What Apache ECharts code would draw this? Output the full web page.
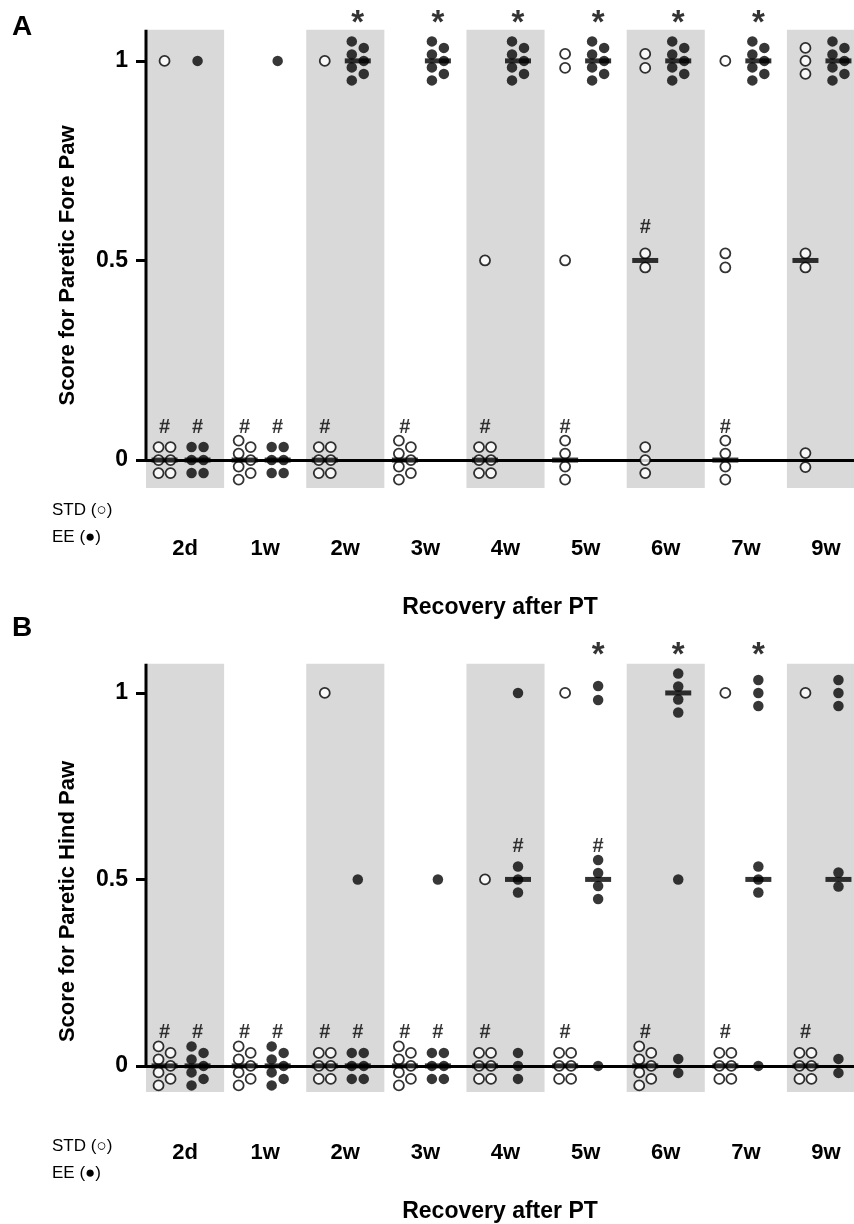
<!DOCTYPE html>
<html><head><meta charset="utf-8">
<script src="https://cdn.jsdelivr.net/npm/echarts@6/dist/echarts.min.js"></script>
<style>html,body{margin:0;padding:0;background:#fff}#c{width:854px;height:1224px}</style>
</head><body><div id="c"></div>
<script>
// ---------------- data ----------------
const timepoints = ['2d', '1w', '2w', '3w', '4w', '5w', '6w', '7w', '9w'];
const scoreLevels = [0, 0.5, 1];
const yTicks = [0, 0.5, 1];
// number of animals at score [0, 0.5, 1] for each time point
const foreSTD = [[6,0,1],[7,0,0],[6,0,1],[7,0,0],[6,1,0],[4,1,2],[3,2,2],[4,2,1],[2,2,3]];
const foreEE  = [[6,0,1],[6,0,1],[0,0,7],[0,0,7],[0,0,7],[0,0,7],[0,0,7],[0,0,7],[0,0,7]];
const hindSTD = [[7,0,0],[7,0,0],[6,0,1],[7,0,0],[6,1,0],[6,0,1],[7,0,0],[6,0,1],[6,0,1]];
const hindEE  = [[7,0,0],[7,0,0],[6,1,0],[6,1,0],[3,3,1],[1,4,2],[2,1,4],[1,3,3],[2,2,3]];
// '#' marks: [time index, group, score level]
const foreHash = [[0,'STD',0],[1,'STD',0],[2,'STD',0],[3,'STD',0],[4,'STD',0],[5,'STD',0],[7,'STD',0],
                  [0,'EE',0],[1,'EE',0],[6,'STD',0.5]];
const hindHash = [[0,'STD',0],[1,'STD',0],[2,'STD',0],[3,'STD',0],[4,'STD',0],[5,'STD',0],[6,'STD',0],[7,'STD',0],[8,'STD',0],
                  [0,'EE',0],[1,'EE',0],[2,'EE',0],[3,'EE',0],[4,'EE',0.5],[5,'EE',0.5]];
// '*' marks (EE vs STD) at time indices
const foreStar = [2, 3, 4, 5, 6, 7];
const hindStar = [5, 6, 7];

// ---------------- layout / style ----------------
const X_MIN = -0.4875, X_MAX = 8.35;
const Y_MIN = -0.07, Y_MAX = 1.15, BAND_TOP = 1.078;
const GROUP_SHIFT = { STD: -0.256, EE: 0.156 };
const GRID_LEFT = 146, GRID_H = 487;
const FONT = "'Liberation Sans', Arial, sans-serif";

const panels = [
  { counts: { STD: foreSTD, EE: foreEE }, hash: foreHash, star: foreStar, title: 'Score for Paretic Fore Paw', top: 1, letter: 'A', letterY: 27 },
  { counts: { STD: hindSTD, EE: hindEE }, hash: hindHash, star: hindStar, title: 'Score for Paretic Hind Paw', top: 637, letter: 'B', letterY: 628 }
];

function swarm(n) {
  switch (n) {
    case 1: return [[0, 0]];
    case 2: return [[0, -7], [0, 7]];
    case 3: return [[0, -13], [0, 0], [0, 13]];
    case 4: return [[0, -19.5], [0, -6.5], [0, 6.5], [0, 19.5]];
    case 5: return [[0, -20], [0, -10], [0, 0], [0, 10], [0, 20]];
    case 6: return [[-6, -13], [6, -13], [-6, 0], [6, 0], [-6, 13], [6, 13]];
    case 7: return [[-6, -19.5], [6, -13], [-6, -6.5], [6, 0], [-6, 6.5], [6, 13], [-6, 19.5]];
    default: return [];
  }
}
function median(c) {
  const vals = [];
  c.forEach((n, k) => { for (let j = 0; j < n; j++) vals.push(scoreLevels[k]); });
  vals.sort((a, b) => a - b);
  const m = Math.floor(vals.length / 2);
  return vals.length % 2 ? vals[m] : (vals[m - 1] + vals[m]) / 2;
}

const option = { animation: false, grid: [], xAxis: [], yAxis: [], series: [], graphic: [] };

panels.forEach((p, gi) => {
  const zeroY = p.top + (Y_MAX / (Y_MAX - Y_MIN)) * GRID_H;
  const unit = GRID_H / (Y_MAX - Y_MIN);
  option.grid.push({ left: GRID_LEFT, right: 0, top: p.top, height: GRID_H });
  option.xAxis.push({
    gridIndex: gi, type: 'value', min: X_MIN, max: X_MAX,
    axisLine: { show: true, onZero: true, lineStyle: { color: '#000', width: 3 } },
    axisTick: { show: false }, splitLine: { show: false },
    axisLabel: { customValues: timepoints.map((_, i) => i), formatter: v => timepoints[Math.round(v)],
      margin: 50, fontSize: 22, fontWeight: 'bold', color: '#000', fontFamily: FONT },
    name: 'Recovery after PT', nameLocation: 'middle', nameGap: 108,
    nameTextStyle: { fontSize: 23, fontWeight: 'bold', color: '#000', fontFamily: FONT }
  });
  option.yAxis.push({
    gridIndex: gi, type: 'value', min: Y_MIN, max: Y_MAX,
    axisLine: { show: false, onZero: false }, splitLine: { show: false },
    axisTick: { show: true, customValues: yTicks, length: 10, lineStyle: { color: '#000', width: 3 } },
    axisLabel: { customValues: yTicks, formatter: v => String(v), margin: 18,
      fontSize: 23, fontWeight: 'bold', color: '#000', fontFamily: FONT }
  });
  // shaded bands
  option.series.push({
    type: 'custom', xAxisIndex: gi, yAxisIndex: gi, z: 0, silent: true,
    data: timepoints.map((_, i) => [i, 0]).filter(d => d[0] % 2 === 0),
    renderItem: (params, api) => {
      const i = api.value(0);
      const p0 = api.coord([Math.max(i - 0.4875, X_MIN), BAND_TOP]);
      const p1 = api.coord([Math.min(i + 0.4875, X_MAX), Y_MIN]);
      return { type: 'rect', shape: { x: p0[0], y: p0[1], width: p1[0] - p0[0], height: p1[1] - p0[1] },
        style: { fill: '#d9d9d9' } };
    }
  });
  // y axis line (0 .. band top)
  option.series.push({
    type: 'line', xAxisIndex: gi, yAxisIndex: gi, data: [[X_MIN, 0], [X_MIN, BAND_TOP]],
    symbol: 'none', lineStyle: { color: '#000', width: 3 }, clip: false, z: 5, silent: true
  });
  // dots
  ['STD', 'EE'].forEach(g => {
    const data = [];
    p.counts[g].forEach((c, i) => {
      c.forEach((n, k) => {
        swarm(n).forEach(off => data.push({ value: [i + GROUP_SHIFT[g], scoreLevels[k]], symbolOffset: off }));
      });
    });
    option.series.push({
      type: 'scatter', name: g, xAxisIndex: gi, yAxisIndex: gi, data, clip: false, z: 3,
      symbol: 'circle', symbolSize: g === 'STD' ? 10 : 10.5,
      itemStyle: g === 'STD' ? { color: '#fff', borderColor: '#000', borderWidth: 1.8 } : { color: '#050505' }
    });
    // median bars
    option.series.push({
      type: 'scatter', xAxisIndex: gi, yAxisIndex: gi, clip: false, z: 4,
      symbol: 'rect', symbolSize: [26, 5], itemStyle: { color: '#000' },
      data: p.counts[g].map((c, i) => [i + GROUP_SHIFT[g], median(c)])
    });
  });
  // '#' marks
  option.series.push({
    type: 'scatter', xAxisIndex: gi, yAxisIndex: gi, clip: false, z: 6, symbolSize: 1,
    itemStyle: { color: 'rgba(0,0,0,0)' },
    label: { show: true, position: 'inside', formatter: '#', offset: [0, -33], fontSize: 20, fontWeight: 'bold', color: '#000', fontFamily: FONT },
    data: p.hash.map(h => [h[0] + GROUP_SHIFT[h[1]], h[2]])
  });
  // '*' marks
  option.series.push({
    type: 'scatter', xAxisIndex: gi, yAxisIndex: gi, clip: false, z: 6, symbolSize: 1,
    itemStyle: { color: 'rgba(0,0,0,0)' },
    label: { show: true, position: 'inside', formatter: '*', offset: [0, -37], fontSize: 33, fontWeight: 'bold', color: '#000', fontFamily: FONT },
    data: p.star.map(i => [i + GROUP_SHIFT.EE, 1])
  });
  // texts
  option.graphic.push(
    { type: 'text', x: 22, y: p.letterY, style: { text: p.letter, fill: '#000', font: 'bold 28px ' + FONT, align: 'center', verticalAlign: 'middle' } },
    { type: 'text', x: 68, y: zeroY - 0.5 * unit + 5, rotation: Math.PI / 2,
      style: { text: p.title, fill: '#000', font: 'bold 22px ' + FONT, align: 'center', verticalAlign: 'middle' } },
    { type: 'text', x: 52, y: zeroY + 50, style: { text: 'STD (○)', fill: '#000', font: '17px ' + FONT, align: 'left', verticalAlign: 'middle' } },
    { type: 'text', x: 52, y: zeroY + 77, style: { text: 'EE (●)', fill: '#000', font: '17px ' + FONT, align: 'left', verticalAlign: 'middle' } }
  );
});

const chart = echarts.init(document.getElementById('c'), null, { renderer: 'canvas' });
chart.setOption(option);
</script>
</body></html>
